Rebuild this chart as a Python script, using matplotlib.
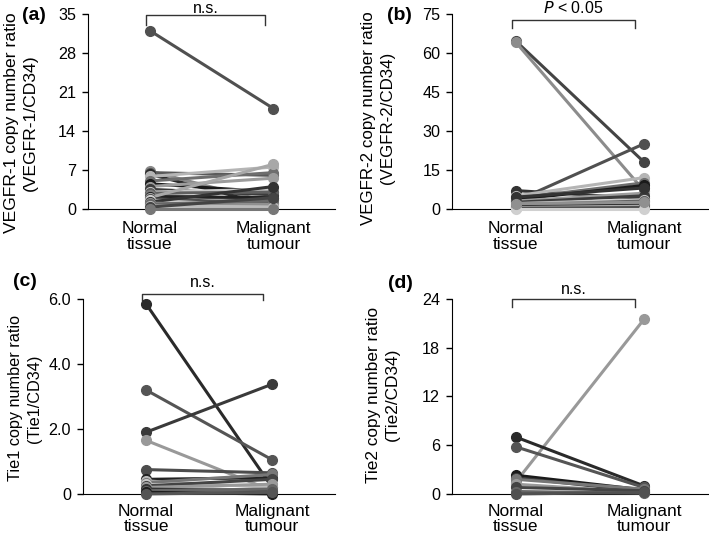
import matplotlib
matplotlib.use('Agg')
import matplotlib.pyplot as plt
import matplotlib.transforms as mtransforms

plt.rcParams['font.family'] = ['Liberation Sans', 'DejaVu Sans']

groups = ['Normal\ntissue', 'Malignant\ntumour']

# (a) VEGFR-1/CD34
a_normal = [32.0, 6.8, 6.5, 6.2, 5.8, 5.0, 4.5, 4.0, 3.5, 3.0, 2.8, 2.5, 2.2, 2.0, 1.8, 1.5, 1.2, 1.0, 0.8, 0.5, 0.3, 0.0]
a_malig = [18.0, 1.0, 6.0, 0.5, 7.5, 6.5, 3.0, 5.5, 2.5, 3.5, 3.0, 1.5, 2.0, 8.0, 1.0, 0.5, 4.0, 0.8, 1.5, 0.3, 2.0, 0.0]
# (b) VEGFR-2/CD34
b_normal = [64.5, 64.0, 3.0, 7.0, 5.0, 4.0, 3.5, 3.0, 2.5, 2.0, 1.5, 1.0, 0.8, 0.5, 0.2, 0.0, 4.5, 2.0]
b_malig = [18.0, 7.0, 25.0, 4.0, 12.0, 10.0, 9.0, 6.0, 5.0, 3.5, 3.0, 2.0, 1.5, 1.0, 0.5, 0.0, 8.0, 2.5]
# (c) Tie1/CD34
c_normal = [5.85, 3.2, 1.9, 1.65, 0.75, 0.45, 0.4, 0.35, 0.3, 0.25, 0.2, 0.15, 0.1, 0.05, 0.0]
c_malig = [0.2, 1.05, 3.38, 0.1, 0.65, 0.5, 0.2, 0.6, 0.05, 0.45, 0.3, 0.1, 0.15, 0.0, 0.05]
# (d) Tie2/CD34
d_normal = [1.5, 7.0, 5.8, 2.3, 2.0, 1.8, 1.2, 0.8, 0.3, 0.0]
d_malig = [21.5, 1.0, 0.8, 0.5, 0.3, 0.6, 0.2, 0.4, 0.1, 0.2]

greys = ['#4a4a4a', '#8a8a8a', '#5a5a5a', '#2a2a2a', '#b5b5b5', '#6e6e6e', '#1a1a1a',
         '#9c9c9c', '#3c3c3c', '#c8c8c8', '#606060', '#7d7d7d', '#222222', '#a8a8a8',
         '#505050', '#d0d0d0', '#333333', '#909090', '#686868', '#bbbbbb', '#444444', '#777777']
line_colors = {
    'a': ['#505050'] + greys[1:],
    'b': ['#444444', '#8c8c8c', '#505050', '#333333'] + greys[4:],
    'c': ['#2a2a2a', '#555555', '#3a3a3a', '#999999', '#4d4d4d', '#222222', '#bcbcbc',
          '#777777', '#c8c8c8', '#444444', '#9a9a9a', '#333333', '#666666', '#1e1e1e', '#555555'],
    'd': ['#999999', '#2a2a2a', '#555555', '#1a1a1a', '#3a3a3a', '#777777', '#9a9a9a',
          '#444444', '#666666', '#505050'],
}

# key, data, ticks, labels, ylabel, sig text, rect, bracket (top, bottom), text gap,
# ylabel (x, y, size), panel letter pos (px), x label pad
panels = [
    ('a', a_normal, a_malig, [0, 7, 14, 21, 28, 35], ['0', '7', '14', '21', '28', '35'],
     'VEGFR-1 copy number ratio\n(VEGFR-1/CD34)', 'n.s.',
     [0.124, 0.609, 0.349, 0.365], (0.995, 0.945), 0.012, (-0.202, 0.44, 12.6), (22, 15), 9),
    ('b', b_normal, b_malig, [0, 15, 30, 45, 60, 75], ['0', '15', '30', '45', '60', '75'],
     'VEGFR-2 copy number ratio\n(VEGFR-2/CD34)', r'$\it{P}$ < 0.05',
     [0.6375, 0.609, 0.361, 0.365], (0.97, 0.93), 0.036, (-0.223, 0.465, 12.2), (387, 15), 9),
    ('c', c_normal, c_malig, [0, 2, 4, 6], ['0', '2.0', '4.0', '6.0'],
     'Tie1 copy number ratio\n(Tie1/CD34)', 'n.s.',
     [0.117, 0.075, 0.356, 0.365], (1.025, 0.995), 0.036, (-0.163, 0.49, 11.7), (13, 282), 7),
    ('d', d_normal, d_malig, [0, 6, 12, 18, 24], ['0', '6', '12', '18', '24'],
     'Tie2 copy number ratio\n(Tie2/CD34)', 'n.s.',
     [0.6375, 0.075, 0.361, 0.365], (1.0, 0.96), 0.026, (-0.203, 0.51, 12.4), (388, 284), 7),
]

W, H = 709, 534
fig = plt.figure(figsize=(W / 100, H / 100), dpi=100)

for (key, normal, malig, ticks, ticklabels, ylabel, sig, rect, (btop, bbot), gap,
     (lx, ly, lsize), (px, py), xpad) in panels:
    ax = fig.add_axes(rect)
    cols = line_colors[key]
    for i in range(len(normal)):
        ax.plot([0, 1], [normal[i], malig[i]], color=cols[i % len(cols)], lw=2.2,
                marker='o', ms=7, clip_on=False, zorder=3)
    ax.set_xlim(-0.5, 1.5)
    ax.set_ylim(0, ticks[-1])
    ax.set_yticks(ticks)
    ax.set_yticklabels(ticklabels)
    ax.set_xticks([0, 1])
    ax.set_xticklabels(groups, linespacing=1.05)
    ax.tick_params(axis='x', length=0, labelsize=12.5, pad=xpad)
    ax.tick_params(axis='y', length=4.5, labelsize=11.6, width=1, pad=4)
    ax.spines['top'].set_visible(False)
    ax.spines['right'].set_visible(False)
    ax.spines['left'].set_bounds(0, ticks[-1])
    ax.set_ylabel(ylabel, fontsize=lsize, linespacing=1.3)
    ax.yaxis.set_label_coords(lx, ly)

    trans = mtransforms.blended_transform_factory(ax.transData, ax.transAxes)
    ax.plot([-0.03, -0.03, 0.93, 0.93], [bbot, btop, btop, bbot], color='#333333',
            lw=1.0, transform=trans, clip_on=False)
    ax.text(0.45, btop + gap, sig, transform=trans, ha='center', va='baseline', fontsize=11.5)
    fig.text(px / W, 1 - py / H, '(%s)' % key, ha='left', va='center',
             fontsize=14, fontweight='bold')

fig.savefig('out.png', dpi=100)
